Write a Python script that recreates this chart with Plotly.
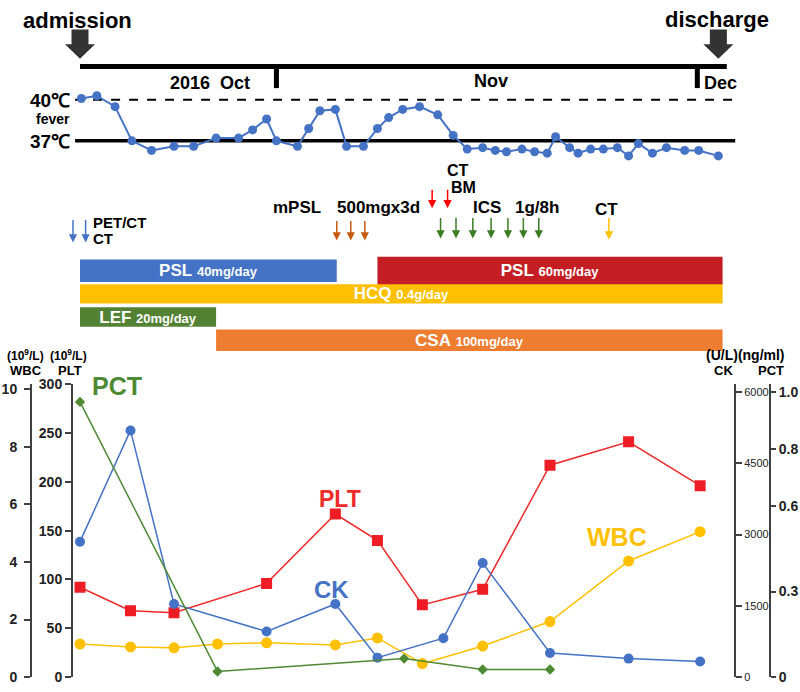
import pandas as pd
import plotly.graph_objects as go

# hospital day 0 = admission (18 Oct 2016)
admission = pd.Timestamp('2016-10-18')
nov_day = (pd.Timestamp('2016-11-01') - admission).days
dec_day = (pd.Timestamp('2016-12-01') - admission).days
discharge_day = 45.5
timeline_end = 46.1

# body temperature, one reading per day
temp_days = [0.1, 1.2, 2.5, 3.7, 5.1, 6.7, 8.1, 9.7, 11.3, 12.3, 13.3, 14.0, 15.5, 16.3, 17.1,
             18.2, 19.0, 20.2, 21.2, 22.0, 23.0, 24.2, 25.5, 26.6, 27.6, 28.7, 29.6, 30.4, 31.5,
             32.4, 33.3, 33.9, 34.9, 35.5, 36.4, 37.3, 38.3, 39.1, 39.8, 40.8, 41.8, 43.1, 44.1, 45.5]
temp_c = [40.1, 40.3, 39.5, 37.0, 36.3, 36.6, 36.6, 37.2, 37.2, 37.8, 38.6, 37.0, 36.6, 37.9, 39.2,
          39.3, 36.6, 36.6, 37.9, 38.7, 39.3, 39.5, 38.9, 37.4, 36.4, 36.5, 36.3, 36.2, 36.4,
          36.2, 36.1, 37.3, 36.5, 36.1, 36.4, 36.4, 36.5, 35.9, 36.8, 36.1, 36.5, 36.3, 36.3, 35.9]

# exams / pulses
pet_ct_days = [-0.5, 0.4]
mpsl_days = [18.3, 19.3, 20.3]
ct_bm_days = [25.1, 26.2]
ics_days = [25.7, 26.8, 28.0, 29.3, 30.5, 31.6, 32.7]
ct_days = [37.7]

# drugs
drugs = ['PSL', 'PSL', 'HCQ', 'LEF', 'CSA']
doses = ['40mg/day', '60mg/day', '0.4g/day', '20mg/day', '100mg/day']
drug_start = [0, 21.2, 0, 0, 9.7]
drug_end = [18.3, 45.8, 45.8, 9.7, 45.8]
drug_rows = ['PSL', 'HCQ', 'LEF', 'CSA']

# labs
wbc_days = [0, 3.6, 6.7, 9.8, 13.3, 18.2, 21.2, 24.4, 28.7, 33.5, 39.1, 44.2]
wbc = [1.15, 1.05, 1.02, 1.15, 1.19, 1.12, 1.36, 0.47, 1.08, 1.93, 4.03, 5.05]
plt_days = [0, 3.6, 6.7, 13.3, 18.2, 21.2, 24.4, 28.7, 33.5, 39.1, 44.2]
plt_vals = [92, 68, 66, 96, 167, 140, 74, 90, 217, 241, 196]
ck_days = [0, 3.6, 6.7, 13.3, 18.2, 21.2, 25.9, 28.7, 33.5, 39.1, 44.2]
ck = [2850, 5190, 1540, 960, 1540, 410, 820, 2400, 510, 390, 330]
pct_days = [0, 9.8, 23.1, 28.7, 33.5]
pct = [0.965, 0.02, 0.065, 0.027, 0.027]

wbc_ticks = [0, 2, 4, 6, 8, 10]
plt_ticks = [0, 50, 100, 150, 200, 250, 300]
ck_ticks = [0, 1500, 3000, 4500, 6000]
pct_ticks = [0, 0.3, 0.6, 0.8, 1.0]

W, H = 800, 692
FONT = 'Arial'
ppd = 14.03      # pixels per day
x0 = 80          # pixel of day 0


def px(x):
    return x / W


def py(y):
    return 1 - y / H


fig = go.Figure()

# temperature curve
fig.add_trace(go.Scatter(x=temp_days, y=temp_c, mode='lines+markers', xaxis='x', yaxis='y',
                         line=dict(color='#4472C4', width=2), marker=dict(size=9, color='#4472C4'),
                         showlegend=False, hoverinfo='skip'))

# drug bars
bar_colors = ['#4472C4', '#C41E24', '#FFC000', '#548235', '#ED7D31']
bar_widths = [0.97, 1.22, 0.84, 0.84, 0.93]
for i in range(len(drugs)):
    fig.add_trace(go.Bar(y=[drugs[i]], x=[drug_end[i] - drug_start[i]], base=[drug_start[i]],
                         orientation='h', width=[bar_widths[i]], xaxis='x', yaxis='y2',
                         marker=dict(color=bar_colors[i], line=dict(width=0)),
                         text=["<b>%s</b> <span style='font-size:13px'><b>%s</b></span>" % (drugs[i], doses[i])],
                         textposition='inside', insidetextanchor='middle', textangle=0,
                         constraintext='none',
                         textfont=dict(color='white', size=17, family=FONT),
                         showlegend=False, hoverinfo='skip'))

# lab curves
fig.add_trace(go.Scatter(x=wbc_days, y=wbc, mode='lines+markers', xaxis='x', yaxis='y3',
                         line=dict(color='#FFC000', width=1.5), marker=dict(size=11, color='#FFC000'),
                         showlegend=False, hoverinfo='skip'))
fig.add_trace(go.Scatter(x=pct_days, y=pct, mode='lines+markers', xaxis='x', yaxis='y6',
                         line=dict(color='#4E8A33', width=1.5),
                         marker=dict(size=8, symbol='diamond', color='#4E8A33'),
                         showlegend=False, hoverinfo='skip'))
fig.add_trace(go.Scatter(x=ck_days, y=ck, mode='lines+markers', xaxis='x', yaxis='y5',
                         line=dict(color='#4472C4', width=1.5), marker=dict(size=10, color='#4472C4'),
                         showlegend=False, hoverinfo='skip'))
fig.add_trace(go.Scatter(x=plt_days, y=plt_vals, mode='lines+markers', xaxis='x', yaxis='y4',
                         line=dict(color='#EE2A2A', width=1.5),
                         marker=dict(size=11, symbol='square', color='#EE1C25'),
                         showlegend=False, hoverinfo='skip'))

# timeline
fig.add_shape(type='line', xref='x', yref='paper', x0=0, x1=timeline_end, y0=py(60), y1=py(60),
              line=dict(color='black', width=5))
for d in [nov_day, dec_day]:
    fig.add_shape(type='line', xref='x', yref='paper', x0=d, x1=d, y0=py(60), y1=py(82),
                  line=dict(color='black', width=5))


def block_arrow(day):
    hs, hh = 8.5 / ppd, 15 / ppd
    pts = [(day - hs, 22), (day + hs, 22), (day + hs, 37), (day + hh, 37), (day, 52),
           (day - hh, 37), (day - hs, 37)]
    path = 'M ' + ' L '.join('%.3f,%.4f' % (x, py(y)) for x, y in pts) + ' Z'
    fig.add_shape(type='path', path=path, xref='x', yref='paper', fillcolor='#333333',
                  line=dict(width=0))


block_arrow(0)
block_arrow(discharge_day)

# fever reference lines
fig.add_shape(type='line', xref='x', yref='y', x0=-0.35, x1=46.7, y0=40, y1=40, layer='below',
              line=dict(color='black', width=2, dash='dash'))
fig.add_shape(type='line', xref='x', yref='y', x0=-0.35, x1=46.7, y0=37, y1=37, layer='below',
              line=dict(color='black', width=3.5))


def add_text(text, x, y, size=16, color='black', anchor='center', bold=True):
    if bold:
        text = '<b>%s</b>' % text
    fig.add_annotation(text=text, x=px(x), y=py(y), xref='paper', yref='paper', showarrow=False,
                       xanchor=anchor, yanchor='middle', font=dict(size=size, color=color, family=FONT))


def add_arrows(days, y_top, y_bot, color):
    for d in days:
        fig.add_annotation(x=d, y=py(y_bot), xref='x', yref='paper', ax=0, ay=-(y_bot - y_top),
                           text='', showarrow=True, arrowhead=2, arrowsize=1.1, arrowwidth=1.5,
                           arrowcolor=color)


add_text('admission', 77, 13, 22)
add_text('discharge', 717, 12, 22)
add_text('2016\u00a0\u00a0Oct', 210, 77, 18)
add_text('Nov', 491, 75, 18)
add_text('Dec', 702, 77, 18, anchor='left')
add_text('40℃', 72, 95, 19, anchor='right')
add_text('fever', 72, 114, 14, anchor='right')
add_text('37℃', 72, 137, 19, anchor='right')

add_arrows(pet_ct_days, 216, 240, '#4472C4')
add_arrows(mpsl_days, 217, 238, '#C55A11')
add_arrows(ct_bm_days, 185, 205, '#FF0000')
add_arrows(ics_days, 214, 236, '#3A7D22')
add_arrows(ct_days, 214, 237, '#FFC000')
add_text('PET/CT', 91, 220, 15, anchor='left')
add_text('CT', 91, 236, 15, anchor='left')
add_text('mPSL', 297, 204, 17)
add_text('500mgx3d', 378, 204, 17)
add_text('CT', 458, 166, 16)
add_text('BM', 464, 184, 16)
add_text('ICS', 487, 204, 17)
add_text('1g/8h', 537, 204, 17)
add_text('CT', 606, 206, 17)

# axis headers
add_text('(10<sup>9</sup>/L)', 25, 355, 12)
add_text('(10<sup>9</sup>/L)', 68, 355, 12)
add_text('WBC', 26, 371, 13)
add_text('PLT', 70, 371, 13)
add_text('(U/L)(ng/ml)', 745, 355, 14)
add_text('CK', 723, 371, 13)
add_text('PCT', 771, 371, 13)

# series labels next to their curves
fig.add_annotation(text='<b>PCT</b>', x=pct_days[0], y=pct[0], xref='x', yref='y6', showarrow=False,
                   xanchor='left', xshift=10, yshift=16, font=dict(size=25, color='#4E8A33', family=FONT))
fig.add_annotation(text='<b>PLT</b>', x=plt_days[4], y=plt_vals[4], xref='x', yref='y4', showarrow=False,
                   xshift=5, yshift=15, font=dict(size=23, color='#EE2A2A', family=FONT))
fig.add_annotation(text='<b>CK</b>', x=ck_days[4], y=ck[4], xref='x', yref='y5', showarrow=False,
                   xshift=-4, yshift=14, font=dict(size=24, color='#4472C4', family=FONT))
fig.add_annotation(text='<b>WBC</b>', x=wbc_days[10], y=wbc[10], xref='x', yref='y3', showarrow=False,
                   xshift=-12, yshift=24, font=dict(size=25, color='#FFC000', family=FONT))

# lab axes: zero at 685 px, domain top at 385 px
lab_dom = [py(685), py(385)]
span = 685 - 385
axis_style = dict(showline=True, linewidth=2, linecolor='#404040', ticks='outside', ticklen=6,
                  tickwidth=2, tickcolor='#404040', showgrid=False, zeroline=False, anchor='free')
bold14 = dict(size=14, color='#222', family=FONT, weight='bold')

fig.update_layout(
    width=W, height=H, autosize=False,
    margin=dict(l=0, r=0, t=0, b=0),
    paper_bgcolor='white', plot_bgcolor='white',
    barmode='overlay', hovermode=False,
    xaxis=dict(domain=[0, 1], range=[-x0 / ppd, (W - x0) / ppd], visible=False),
    yaxis=dict(domain=[py(160), py(80)], range=[37 - 24 / 14, 41], visible=False),
    yaxis2=dict(domain=[py(351.9), py(252.4)], type='category', categoryorder='array',
                categoryarray=drug_rows, range=[3.5, -0.7], visible=False),
    yaxis3=dict(domain=lab_dom, range=[0, 10 * span / 295], position=px(31), side='left',
                tickvals=wbc_ticks, tickfont=bold14, ticklabelstandoff=4, **axis_style),
    yaxis4=dict(overlaying='y3', range=[0, 300], position=px(72), side='left',
                tickvals=plt_ticks, tickfont=bold14, **axis_style),
    yaxis5=dict(overlaying='y3', range=[0, 6000 * span / 292], position=px(735), side='right',
                tickvals=ck_ticks, tickfont=dict(size=11, color='#222', family=FONT),
                **axis_style),
    yaxis6=dict(overlaying='y3', range=[0, 1.0 * span / 292], position=px(770), side='right',
                tickvals=pct_ticks, ticktext=['0', '0.3', '0.6', '0.8', '1.0'],
                tickfont=bold14, **dict(axis_style, ticklen=5)),
)

fig.write_html("out.html", config={'displayModeBar': False},
               post_script="document.body.style.margin='0';")
